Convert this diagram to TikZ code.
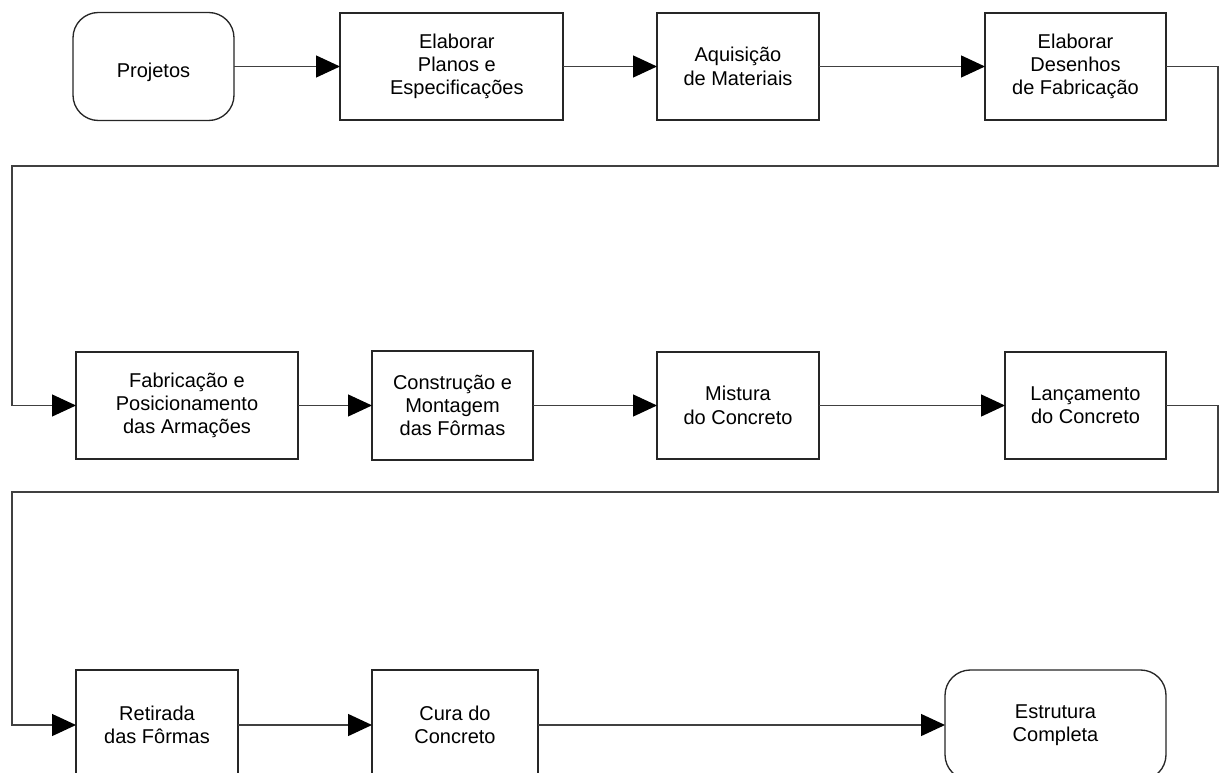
\documentclass[tikz,border=0pt]{standalone}
\usepackage{fontspec}
\setmainfont{Liberation Sans}
\usetikzlibrary{arrows.meta}
\newlength{\upx}\setlength{\upx}{0.75pt}
\tikzset{
  box/.style={draw=black!85, line width=1pt, fill=white, inner sep=0pt, outer sep=0pt,
    align=center, font=\fontsize{15}{17.5}\selectfont},
  roundbox/.style={box, rounded corners=19pt},
  arr/.style={draw=black!75, line width=1pt, -{Triangle[length=18pt,width=16.5pt,color=black]}},
}
\begin{document}
\begin{tikzpicture}[x=0.75pt,y=-0.75pt]
\useasboundingbox (0,0) rectangle (1226,773);
\clip (0,0) rectangle (1226,773);
% row 1
\node[roundbox, minimum width=161\upx, minimum height=108\upx] (proj) at (153.5,66.5) {\raisebox{-4.5pt}[\height][\depth]{Projetos}};
\node[box, minimum width=223\upx, minimum height=107\upx] (plan) at (451.5,66.5) {\hspace*{8pt}Elaborar\\ \hspace*{8pt}Planos e\\ \hspace*{8pt}Especificações};
\node[box, minimum width=162\upx, minimum height=107\upx] (aqui) at (738,66.5) {Aquisição\\de Materiais};
\node[box, minimum width=181\upx, minimum height=107\upx] (dese) at (1075.5,66.5) {Elaborar\\Desenhos\\de Fabricação};
% row 2
\node[box, minimum width=222\upx, minimum height=107\upx] (fab) at (187,405.5) {Fabricação e\\Posicionamento\\das Armações};
\node[box, minimum width=161\upx, minimum height=109\upx] (cons) at (452.5,405.5) {Construção e\\Montagem\\das Fôrmas};
\node[box, minimum width=162\upx, minimum height=107\upx] (mist) at (738,405.5) {Mistura\\do Concreto};
\node[box, minimum width=161\upx, minimum height=107\upx] (lanc) at (1085.5,405.5) {Lançamento\\do Concreto};
% row 3
\node[box, minimum width=162\upx, minimum height=110\upx] (ret) at (157,725) {Retirada\\das Fôrmas};
\node[box, minimum width=166\upx, minimum height=110\upx] (cura) at (455,725) {Cura do\\Concreto};
\node[roundbox, minimum width=221\upx, minimum height=110\upx] (estr) at (1055.5,725) {Estrutura\\Completa};
% turning points
\coordinate (r1a) at (1218,66.5);
\coordinate (r1b) at (1218,166);
\coordinate (r1c) at (12,166);
\coordinate (r1d) at (12,405.5);
\coordinate (r2a) at (1218,405.5);
\coordinate (r2b) at (1218,492);
\coordinate (r2c) at (12,492);
\coordinate (r2d) at (12,725);
% connectors
\draw[arr] (proj.east) -- (plan.west);
\draw[arr] (plan.east) -- (aqui.west);
\draw[arr] (aqui.east) -- (dese.west);
\draw[arr] (dese.east) -- (r1a) -- (r1b) -- (r1c) -- (r1d) -- (fab.west);
\draw[arr] (fab.east) -- (cons.west);
\draw[arr] (cons.east) -- (mist.west);
\draw[arr] (mist.east) -- (lanc.west);
\draw[arr] (lanc.east) -- (r2a) -- (r2b) -- (r2c) -- (r2d) -- (ret.west);
\draw[arr] (ret.east) -- (cura.west);
\draw[arr] (cura.east) -- (estr.west);
\end{tikzpicture}
\end{document}
